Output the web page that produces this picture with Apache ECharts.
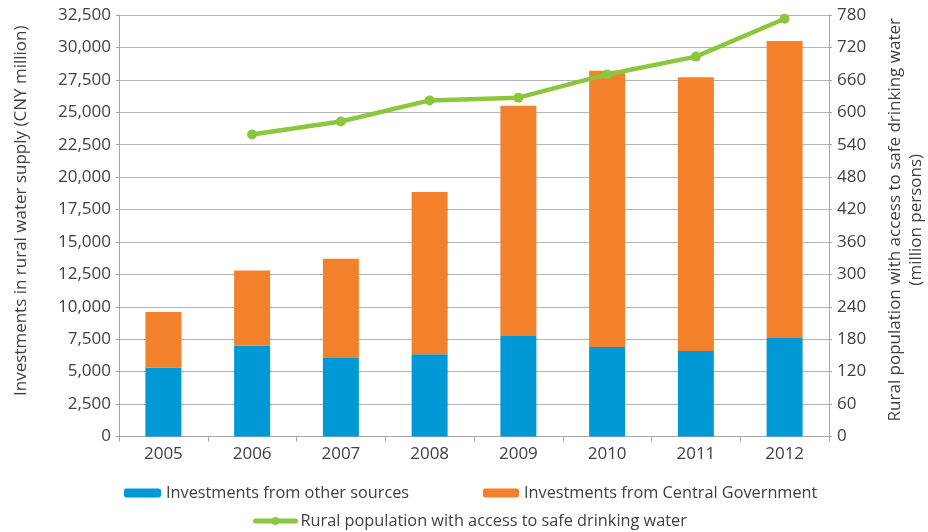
<!DOCTYPE html>
<html>
<head>
<meta charset="utf-8">
<script src="https://cdn.jsdelivr.net/npm/echarts@6/dist/echarts.min.js"></script>
<style>
  html, body { margin: 0; padding: 0; background: #fff; }
  #chart { width: 928px; height: 532px; }
</style>
</head>
<body>
<div id="chart"></div>
<script>
// Rural water supply investment (CNY million) and population with safe drinking water access
const years = ['2005', '2006', '2007', '2008', '2009', '2010', '2011', '2012'];
const otherSources = [5300, 7000, 6050, 6350, 7750, 6900, 6600, 7600];
const centralGov = [4300, 5800, 7650, 12500, 17750, 21300, 21100, 22900];
const ruralPopulation = [null, 559, 583, 622, 627, 670, 703, 773];

const NAME_OTHER = 'Investments from other sources';
const NAME_CENTRAL = 'Investments from Central Government';
const NAME_POP = 'Rural population with access to safe drinking water';

const FONT = '"Open Sans", Lato, sans-serif';
const TEXT = '#404040';
const AXIS = '#a6a6a6';
const GREEN = '#8cc63f';

const chart = echarts.init(document.getElementById('chart'));

const legendText = { fontSize: 16.3, color: TEXT, fontFamily: FONT };

chart.setOption({
  animation: false,
  textStyle: { fontFamily: FONT, color: TEXT },
  grid: {
    left: 119, right: 99, top: 15, bottom: 95.5,
    containLabel: false, outerBoundsMode: 'none'
  },
  legend: [
    {
      data: [NAME_OTHER], left: 119, top: 480,
      itemWidth: 37, itemHeight: 9, itemGap: 6,
      textStyle: legendText
    },
    {
      data: [NAME_CENTRAL], left: 478, top: 480,
      itemWidth: 36, itemHeight: 9, itemGap: 6,
      textStyle: legendText
    },
    {
      data: [NAME_POP], left: 248, top: 508,
      itemWidth: 40, itemHeight: 10,
      lineStyle: { width: 5, cap: 'round' },
      textStyle: legendText
    }
  ],
  xAxis: {
    type: 'category',
    data: years,
    boundaryGap: true,
    axisLine: { lineStyle: { color: AXIS, width: 1 } },
    axisTick: { show: true, alignWithLabel: false, length: 5, lineStyle: { color: AXIS } },
    axisLabel: { fontSize: 17, color: TEXT, margin: 9, fontFamily: FONT }
  },
  yAxis: [
    {
      type: 'value',
      min: 0, max: 32500, interval: 2500,
      name: 'Investments in rural water supply (CNY million)',
      nameLocation: 'middle',
      nameRotate: 90,
      nameGap: 89,
      nameTextStyle: { fontSize: 17, color: TEXT, fontFamily: FONT, padding: [0, 0, 0, 30] },
      axisLine: { show: true, lineStyle: { color: AXIS } },
      axisTick: { show: true, length: 3, lineStyle: { color: AXIS } },
      axisLabel: {
        fontSize: 17, color: TEXT, margin: 8, fontFamily: FONT,
        formatter: v => v.toLocaleString('en-US')
      },
      splitLine: { show: true, lineStyle: { color: '#b4b4b4', width: 1 } }
    },
    {
      type: 'value',
      min: 0, max: 780, interval: 60,
      position: 'right',
      name: 'Rural population with access to safe drinking water\n(million persons)',
      nameLocation: 'middle',
      nameRotate: 90,
      nameGap: 56,
      nameTextStyle: { fontSize: 17, color: TEXT, fontFamily: FONT, lineHeight: 21, padding: [0, 0, 0, 12] },
      axisLine: { show: true, lineStyle: { color: AXIS } },
      axisTick: { show: true, length: 3, lineStyle: { color: AXIS } },
      axisLabel: { fontSize: 17, color: TEXT, margin: 8, fontFamily: FONT },
      splitLine: { show: false }
    }
  ],
  series: [
    {
      name: NAME_OTHER,
      type: 'bar',
      stack: 'invest',
      data: otherSources,
      barWidth: 36,
      itemStyle: { color: '#0099d6' }
    },
    {
      name: NAME_CENTRAL,
      type: 'bar',
      stack: 'invest',
      data: centralGov,
      barWidth: 36,
      itemStyle: { color: '#f3802a' }
    },
    {
      name: NAME_POP,
      type: 'line',
      yAxisIndex: 1,
      data: ruralPopulation,
      connectNulls: false,
      symbol: 'circle',
      symbolSize: 10,
      lineStyle: { color: GREEN, width: 4.5 },
      itemStyle: { color: GREEN }
    }
  ]
});
</script>
</body>
</html>
